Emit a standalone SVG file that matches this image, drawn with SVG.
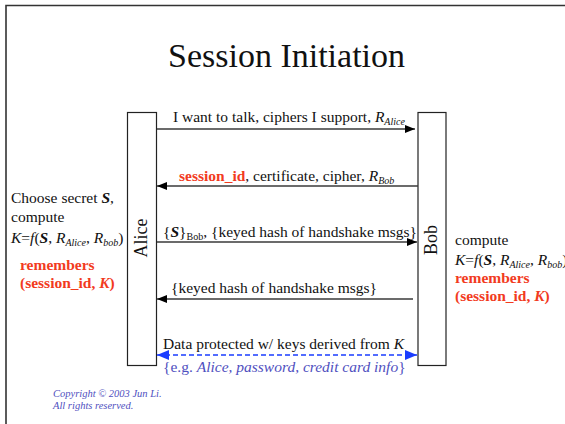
<svg xmlns="http://www.w3.org/2000/svg" width="565" height="424" viewBox="0 0 565 424" font-family="'Liberation Serif', serif">
  <style>
    text { font-family: 'Liberation Serif', serif; fill: #111; }
    .t { font-size: 15.5px; }
    .sub { font-size: 10px; font-style: italic; }
    .it { font-style: italic; }
    .b { font-weight: bold; }
    .red { fill: #f23b1e; }
    .blue { fill: #5050c0; }
    .msg { stroke: #3a3a3a; stroke-width: 1.4; fill: none; }
    .party { fill: #fff; stroke: #222; stroke-width: 1.2; }
  </style>
  <defs>
    <marker id="ah" viewBox="0 0 10 8" refX="10" refY="4" markerWidth="10" markerHeight="8" markerUnits="userSpaceOnUse" orient="auto">
      <path d="M0,0 L10,4 L0,8 z" fill="#000"/>
    </marker>
    <marker id="ahb" viewBox="0 0 12 10" refX="12" refY="5" markerWidth="12" markerHeight="10" markerUnits="userSpaceOnUse" orient="auto-start-reverse">
      <path d="M0,0 L12,5 L0,10 z" fill="#1a3cff"/>
    </marker>
  </defs>

  <rect width="565" height="424" fill="#fff"/>
  <!-- page frame -->
  <path d="M6,424 L6,5.5 L565,5.5" fill="none" stroke="#333" stroke-width="1.6"/>

  <text x="286.5" y="67" font-size="34" text-anchor="middle">Session Initiation</text>

  <g id="alice">
    <rect class="party" x="127.5" y="112.5" width="29" height="253"/>
    <text transform="translate(147,238) rotate(-90)" font-size="18" text-anchor="middle">Alice</text>
  </g>

  <g id="bob">
    <rect class="party" x="418" y="112.5" width="28" height="253"/>
    <text transform="translate(437,240) rotate(-90)" font-size="18" text-anchor="middle">Bob</text>
  </g>

  <g id="connectors">
    <line class="msg" x1="157" y1="129" x2="415" y2="129" marker-end="url(#ah)"/>
    <line class="msg" x1="418" y1="186" x2="157" y2="186" marker-end="url(#ah)"/>
    <line class="msg" x1="157" y1="242" x2="417" y2="242" marker-end="url(#ah)"/>
    <line class="msg" x1="413" y1="299" x2="157" y2="299" marker-end="url(#ah)"/>
    <line x1="157" y1="355" x2="417" y2="355" stroke="#1a3cff" stroke-width="1.6" stroke-dasharray="5,3" marker-start="url(#ahb)" marker-end="url(#ahb)"/>
  </g>

  <g id="labels">
    <text class="t" x="173" y="122">I want to talk, ciphers I support, <tspan class="it">R</tspan><tspan class="sub" dy="3">Alice</tspan></text>
    <text class="t" x="179" y="181"><tspan class="b red">session_id</tspan>, certificate, cipher, <tspan class="it">R</tspan><tspan class="sub" dy="3">Bob</tspan></text>
    <text class="t" x="163" y="237">{<tspan class="b it">S</tspan>}<tspan font-size="10" dy="3">Bob</tspan><tspan dy="-3">, {keyed hash of handshake msgs}</tspan></text>
    <text class="t" x="171" y="293">{keyed hash of handshake msgs}</text>
    <text class="t" x="163" y="349">Data protected w/ keys derived from <tspan class="it">K</tspan></text>
    <text class="t blue" x="163" y="372">{e.g. <tspan class="it">Alice, password, credit card info</tspan>}</text>
  </g>

  <g id="alice-note">
    <text class="t" x="11" y="203">Choose secret <tspan class="b it">S</tspan>,</text>
    <text class="t" x="11" y="222">compute</text>
    <text class="t" x="11" y="243"><tspan class="it">K</tspan>=<tspan class="it">f</tspan>(<tspan class="b it">S</tspan>, <tspan class="it">R</tspan><tspan class="sub" dy="3">Alice</tspan><tspan dy="-3">, </tspan><tspan class="it">R</tspan><tspan class="sub" dy="3">bob</tspan><tspan dy="-3">)</tspan></text>
    <text class="t b red" x="20" y="270">remembers</text>
    <text class="t b red" x="20" y="288">(session_id, <tspan class="it">K</tspan>)</text>
  </g>

  <g id="bob-note">
    <text class="t" x="455" y="245">compute</text>
    <text class="t" x="455" y="265"><tspan class="it">K</tspan>=<tspan class="it">f</tspan>(<tspan class="b it">S</tspan>, <tspan class="it">R</tspan><tspan class="sub" dy="3">Alice</tspan><tspan dy="-3">, </tspan><tspan class="it">R</tspan><tspan class="sub" dy="3">bob</tspan><tspan dy="-3">)</tspan></text>
    <text class="t b red" x="455" y="283">remembers</text>
    <text class="t b red" x="455" y="301">(session_id, <tspan class="it">K</tspan>)</text>
  </g>

  <g id="copyright">
    <text class="it blue" x="53" y="397" font-size="10.5">Copyright © 2003 Jun Li.</text>
    <text class="it blue" x="53" y="409" font-size="10.5">All rights reserved.</text>
  </g>
</svg>
